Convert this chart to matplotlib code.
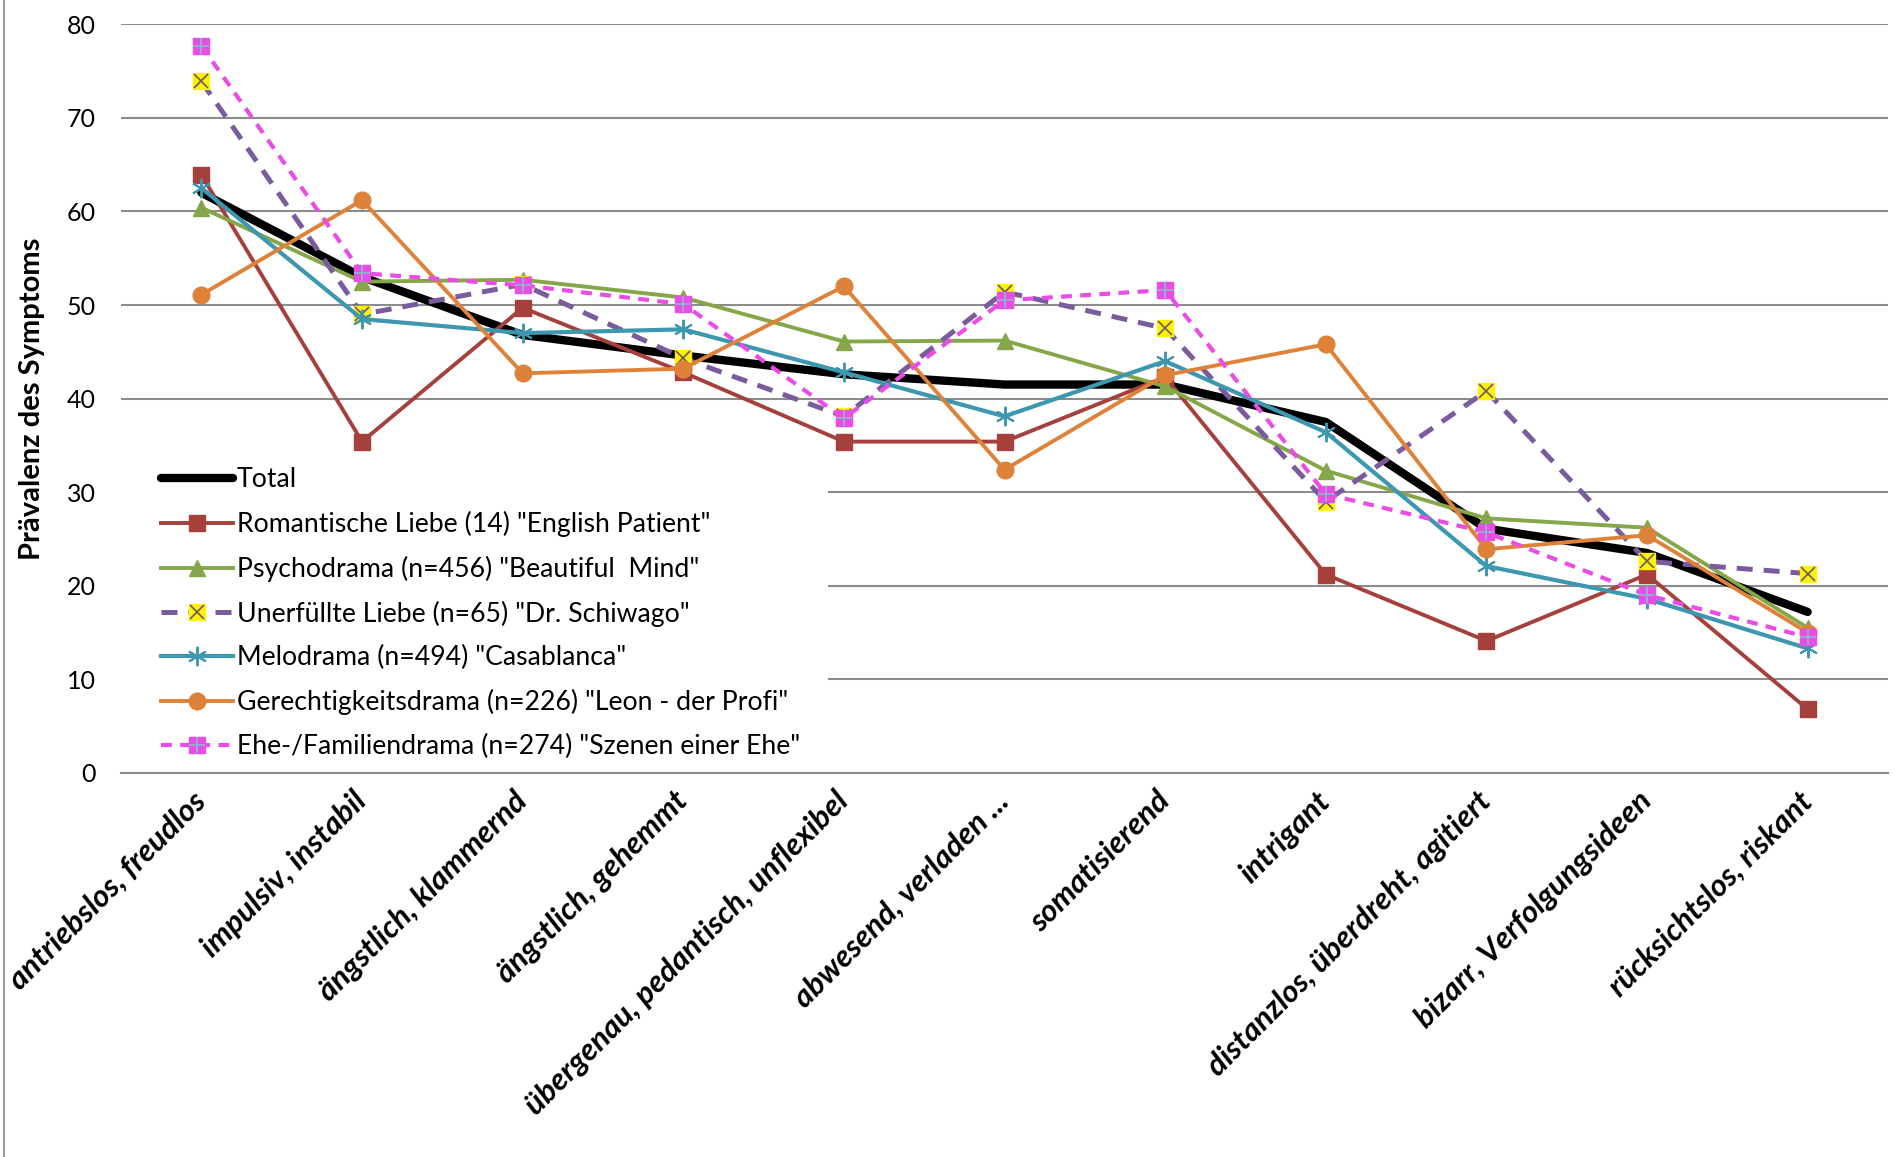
import matplotlib as mpl
mpl.use('Agg')
import matplotlib.pyplot as plt
from matplotlib.lines import Line2D
from matplotlib.patches import Rectangle
import numpy as np

plt.rcParams['font.family'] = ['Lato', 'DejaVu Sans']

categories = ['antriebslos, freudlos', 'impulsiv, instabil', 'ängstlich, klammernd',
              'ängstlich, gehemmt', 'übergenau, pedantisch, unflexibel', 'abwesend, verladen ...',
              'somatisierend', 'intrigant', 'distanzlos, überdreht, agitiert',
              'bizarr, Verfolgungsideen', 'rücksichtslos, riskant']

total = [62.0, 53.0, 46.8, 44.6, 42.6, 41.5, 41.5, 37.5, 26.1, 23.5, 17.2]
romantisch = [63.9, 35.4, 49.7, 42.8, 35.4, 35.4, 42.3, 21.2, 14.1, 21.2, 6.8]
psycho = [60.4, 52.5, 52.7, 50.8, 46.1, 46.2, 41.3, 32.3, 27.2, 26.2, 15.5]
unerfuellt = [73.9, 49.0, 52.2, 44.3, 38.1, 51.4, 47.5, 29.0, 40.8, 22.6, 21.3]
melo = [62.5, 48.5, 47.0, 47.4, 42.8, 38.1, 44.0, 36.4, 22.1, 18.6, 13.3]
gerecht = [51.1, 61.2, 42.7, 43.2, 52.0, 32.4, 42.5, 45.8, 23.9, 25.4, 15.0]
ehe = [77.7, 53.4, 52.1, 50.1, 37.9, 50.5, 51.6, 29.8, 25.7, 19.0, 14.5]

labels = ['Total',
          'Romantische Liebe (14) "English Patient"',
          'Psychodrama (n=456) "Beautiful  Mind"',
          'Unerfüllte Liebe (n=65) "Dr. Schiwago"',
          'Melodrama (n=494) "Casablanca"',
          'Gerechtigkeitsdrama (n=226) "Leon - der Profi"',
          'Ehe-/Familiendrama (n=274) "Szenen einer Ehe"']

x = np.arange(len(categories))

fig = plt.figure(figsize=(18.95, 11.57), dpi=100)
ax = fig.add_axes([0.0639, 0.332, 0.9324, 0.647])

for v in range(10, 90, 10):
    ax.axhline(v, color='#8c8c8c', lw=1.5, zorder=0)

h_total, = ax.plot(x, total, color='black', lw=6, solid_capstyle='round', zorder=2)
h_rom, = ax.plot(x, romantisch, color='#A6403D', lw=2.8, marker='s', ms=11, zorder=3)
h_psy, = ax.plot(x, psycho, color='#86A64A', lw=2.8, marker='^', ms=12, zorder=3)
h_une, = ax.plot(x, unerfuellt, color='#7A5C9E', lw=3.6, dashes=(3.2, 2.2),
                 marker='s', ms=12, mfc='#FFF200', mec='#FFF200', zorder=3)
h_une2, = ax.plot(x, unerfuellt, ls='none', marker='x', ms=10, mec='#6b5a6a', mew=1.2, zorder=3)
h_mel, = ax.plot(x, melo, color='#3C97AF', lw=3.0, marker=(6, 2, 0), ms=14,
                 mec='#3C97AF', mew=1.4, zorder=3)
h_ger, = ax.plot(x, gerecht, color='#DE823A', lw=2.8, marker='o', ms=12, zorder=3)
h_ehe, = ax.plot(x, ehe, color='#EA4DE6', lw=3.0, dashes=(2.6, 2.0),
                 marker='s', ms=12, mfc='#EA4DE6', mec='#EA4DE6', zorder=4)
h_ehe2, = ax.plot(x, ehe, ls='none', marker='+', ms=12, mec='#8fb3d0', mew=1.3, zorder=4)

ax.set_xlim(-0.5, 10.5)
ax.set_ylim(0, 80)
ax.set_yticks(range(0, 90, 10))
ax.set_xticks(x)
ax.set_xticklabels(categories, rotation=45, ha='right', va='center',
                   rotation_mode='anchor', fontsize=22.5, fontweight='bold', style='italic')
ax.tick_params(axis='x', length=0, pad=17)
ax.tick_params(axis='y', length=0, labelsize=18, pad=18)
for s in ['top', 'right', 'left']:
    ax.spines[s].set_visible(False)
ax.spines['bottom'].set_color('#8c8c8c')
ax.spines['bottom'].set_linewidth(1.5)
ax.spines['bottom'].set_zorder(6)

ax.set_ylabel('Prävalenz des Symptoms', fontsize=21, fontweight='bold', labelpad=16)

# white backing so the gridlines stop at the legend
ax.add_patch(Rectangle((0, 0.004), 0.4, 0.41, transform=ax.transAxes,
                       facecolor='white', edgecolor='none', zorder=1))

leg = ax.legend([h_total, h_rom, h_psy, (h_une, h_une2), h_mel, h_ger, (h_ehe, h_ehe2)], labels,
                loc='lower left', bbox_to_anchor=(0.015, 0.0), fontsize=19.2,
                handlelength=2.7, handletextpad=0.12, labelspacing=0.70,
                borderpad=0.5, borderaxespad=0.02, frameon=True, fancybox=False,
                facecolor='white', edgecolor='white', framealpha=1)
leg.set_zorder(5)

# thin frame line along the left edge of the figure
fig.add_artist(Line2D([0.002, 0.002], [0, 1], color='#9a9a9a', lw=1.5))

plt.savefig('out.png', dpi=100)
